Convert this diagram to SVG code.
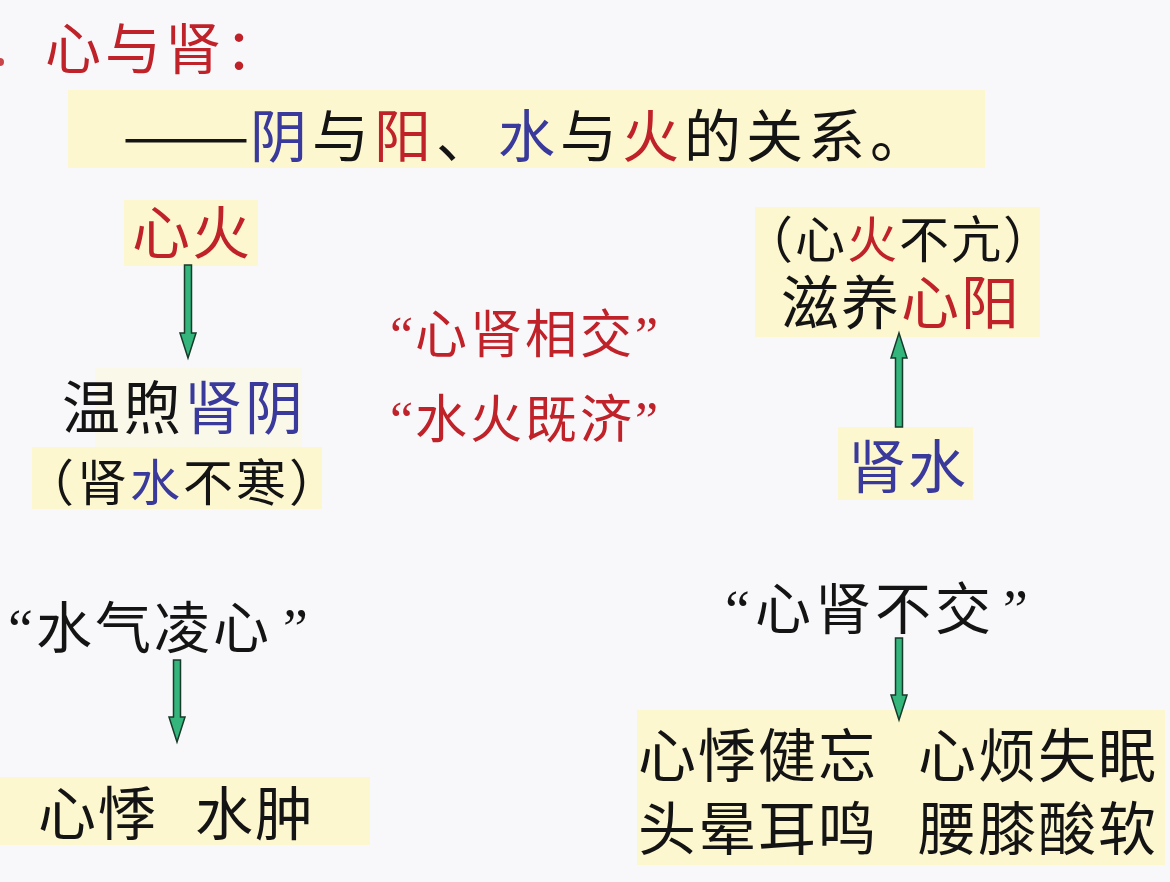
<svg xmlns="http://www.w3.org/2000/svg" width="1170" height="882" viewBox="0 0 1170 882">
<style>
.t{font-family:"Noto Sans CJK SC","Noto Sans CJK TC",sans-serif;fill:#141414}
.q{font-family:"Liberation Serif","Noto Sans CJK SC",serif;fill:#141414}
.r{fill:#c0222a}
.b{fill:#3a3a9c}
.hl{fill:#fcf7cf}
.arr{fill:#33b57c;stroke:#173a2a;stroke-width:1.5;stroke-linejoin:miter}
</style>
<rect x="0" y="0" width="1170" height="882" fill="#f8f8fa"/>
<circle cx="0" cy="62" r="4" fill="#c8454a"/>

<g id="title">
<text class="t r" x="45" y="69" font-size="56" letter-spacing="4">心与肾：</text>
</g>

<g id="subtitle">
<rect class="hl" x="68" y="90" width="917" height="78"/>
<text class="t" x="122" y="157" font-size="57" textLength="128" lengthAdjust="spacingAndGlyphs">——</text>
<text class="t" x="250" y="157" font-size="57" letter-spacing="5"><tspan class="b">阴</tspan>与<tspan class="r">阳</tspan>、<tspan class="b">水</tspan>与<tspan class="r">火</tspan>的关系。</text>
</g>

<g id="xinhuo">
<rect class="hl" x="124" y="200" width="134" height="66"/>
<text class="t r" x="132" y="254" font-size="58" letter-spacing="2">心火</text>
</g>

<g id="wenxu">
<rect class="hl" x="95" y="368" width="207" height="80" opacity="0.4"/>
<rect class="hl" x="32" y="447" width="290" height="62"/>
<text class="t" x="62" y="429" font-size="58" letter-spacing="3">温煦<tspan class="b">肾阴</tspan></text>
<text class="t" x="24" y="501" font-size="50" letter-spacing="3">（肾<tspan class="b">水</tspan>不寒）</text>
</g>

<g id="jiaoji">
<text class="q r" x="390" y="353" font-size="52">“</text>
<text class="t r" x="415" y="353" font-size="52" letter-spacing="3">心肾相交</text>
<text class="q r" x="635" y="353" font-size="52">”</text>
<text class="q r" x="390" y="438" font-size="52">“</text>
<text class="t r" x="415" y="438" font-size="52" letter-spacing="3">水火既济</text>
<text class="q r" x="635" y="438" font-size="52">”</text>
</g>

<g id="ziyang">
<rect class="hl" x="755" y="207" width="285" height="130"/>
<text class="t" x="743" y="258" font-size="50" letter-spacing="2">（心<tspan class="r">火</tspan>不亢）</text>
<text class="t" x="781" y="324" font-size="58" letter-spacing="2">滋养<tspan class="r">心阳</tspan></text>
</g>

<g id="shenshui">
<rect class="hl" x="838" y="427" width="135" height="73"/>
<text class="t b" x="848" y="488" font-size="58" letter-spacing="2">肾水</text>
</g>

<g id="shuiqi">
<text class="q" x="8" y="648" font-size="56">“</text>
<text class="t" x="36" y="648" font-size="56" letter-spacing="3">水气凌心</text>
<text class="q" x="283" y="648" font-size="56">”</text>
</g>

<g id="xinji">
<rect class="hl" x="0" y="777" width="370" height="68"/>
<text class="t" x="38" y="835" font-size="58" letter-spacing="2">心悸</text>
<text class="t" x="195" y="835" font-size="58" letter-spacing="2">水肿</text>
</g>

<g id="bujiao">
<text class="q" x="725" y="629" font-size="56">“</text>
<text class="t" x="755" y="629" font-size="56" letter-spacing="4">心肾不交</text>
<text class="q" x="1003" y="629" font-size="56">”</text>
</g>

<g id="symptoms">
<rect class="hl" x="637" y="710" width="528" height="155"/>
<text class="t" x="638" y="777" font-size="58" letter-spacing="2">心悸健忘</text>
<text class="t" x="918" y="777" font-size="58" letter-spacing="2">心烦失眠</text>
<text class="t" x="638" y="850" font-size="58" letter-spacing="2">头晕耳鸣</text>
<text class="t" x="918" y="850" font-size="58" letter-spacing="2">腰膝酸软</text>
</g>

<g id="connectors">
<polygon class="arr" points="184.5,265 191.5,265 191.5,333 196,333 188,358 180,333 184.5,333"/>
<polygon class="arr" points="895.5,427 902.5,427 902.5,358 907,358 899,333 891,358 895.5,358"/>
<polygon class="arr" points="173.5,660 180.5,660 180.5,717 185,717 177,742 169,717 173.5,717"/>
<polygon class="arr" points="895.5,638 902.5,638 902.5,695 907,695 899,720 891,695 895.5,695"/>
</g>
</svg>
